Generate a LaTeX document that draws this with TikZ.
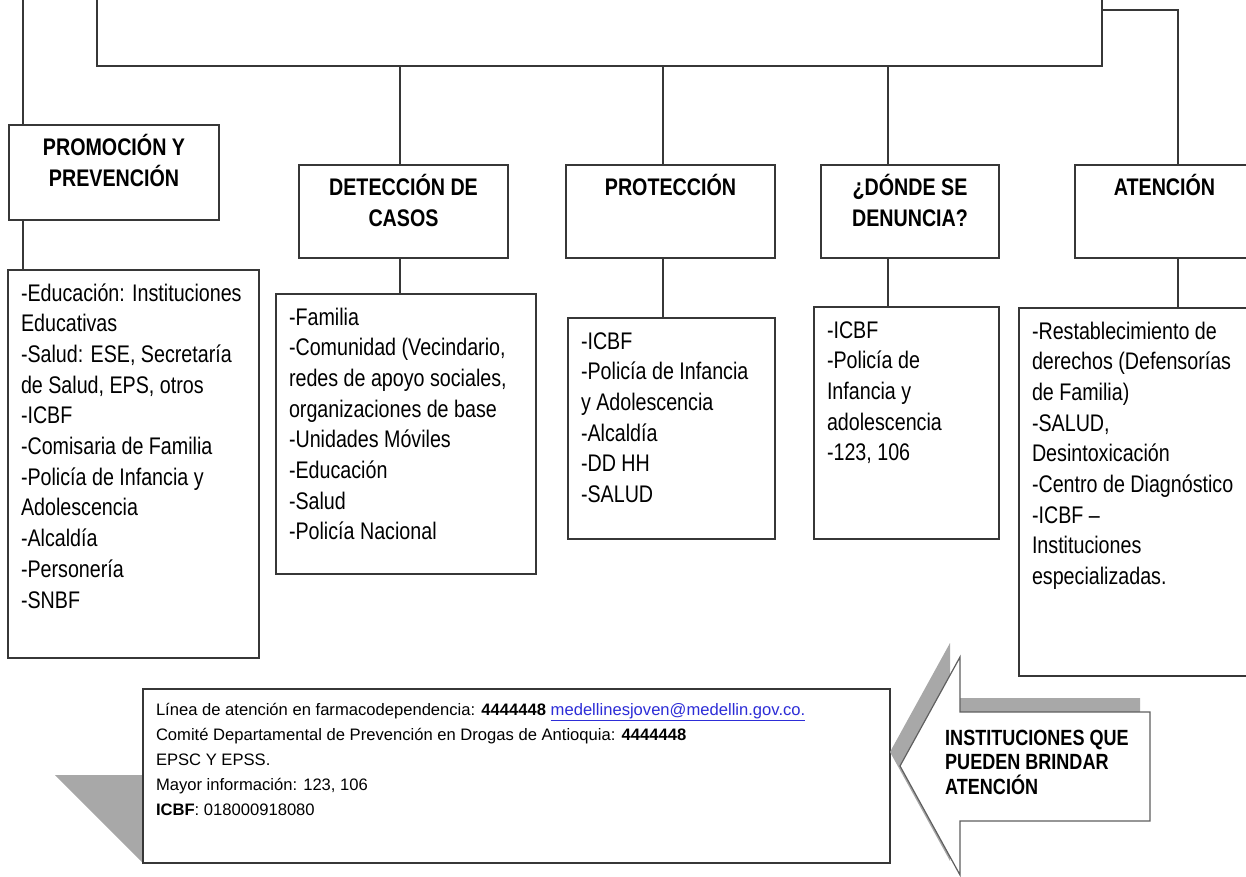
\documentclass[tikz,border=0pt]{standalone}
\usepackage{fontspec}
\setmainfont{Liberation Sans}[FakeStretch=0.82]
\newfontfamily\infofont{Liberation Sans}
\definecolor{linegray}{RGB}{55,55,55}
\definecolor{shadegray}{RGB}{168,168,168}
\definecolor{mailblue}{RGB}{45,45,215}

\begin{document}
\begin{tikzpicture}[x=1pt, y=-1pt,
	frame/.style={draw=linegray, line width=2pt, rectangle, fill=white, anchor=north west, inner xsep=13pt, inner ysep=0pt, text height=31pt},
	head/.style={frame, align=flush center, font=\bfseries\fontsize{24}{31}\selectfont},
	list/.style={frame, align=flush left, font=\fontsize{24}{30.7}\selectfont},
	link/.style={draw=linegray, line width=1.8pt}]

	\useasboundingbox (0,0) rectangle (1246,877);
	\clip (0,0) rectangle (1246,877);

	\node[frame, minimum width=1005pt, minimum height=200pt, anchor=south west] (title) at (96,67) {};

	\node[head, text width=184pt, text depth=64pt] (promo) at (8,124) {PROMOCIÓN Y\\PREVENCIÓN};
	\node[head, text width=183pt, text depth=62pt] (detec) at (298,164) {DETECCIÓN DE\\CASOS};
	\node[head, text width=183pt, text depth=62pt] (prot) at (565,164) {PROTECCIÓN};
	\node[head, text width=152pt, text depth=62pt] (donde) at (820,164) {¿DÓNDE SE\\DENUNCIA?};
	\node[head, text width=153pt, text depth=62pt] (aten) at (1074,164) {ATENCIÓN};

	\node[list, text width=225pt, text depth=357pt] (promoL) at (7,269) {-Educación: Instituciones\\Educativas\\-Salud: ESE, Secretaría\\de Salud, EPS, otros\\-ICBF\\-Comisaria de Familia\\-Policía de Infancia y\\Adolescencia\\-Alcaldía\\-Personería\\-SNBF};
	\node[list, text width=234pt, text depth=249pt] (detecL) at (275,293) {-Familia\\-Comunidad (Vecindario,\\redes de apoyo sociales,\\organizaciones de base\\-Unidades Móviles\\-Educación\\-Salud\\-Policía Nacional};
	\node[list, text width=181pt, text depth=190pt] (protL) at (567,317) {-ICBF\\-Policía de Infancia\\y Adolescencia\\-Alcaldía\\-DD HH\\-SALUD};
	\node[list, text width=159pt, text depth=201pt] (dondeL) at (813,306) {-ICBF\\-Policía de\\Infancia y\\adolescencia\\-123, 106};
	\node[list, text width=208pt, text depth=337pt] (atenL) at (1018,307) {-Restablecimiento de\\derechos (Defensorías\\de Familia)\\-SALUD,\\Desintoxicación\\-Centro de Diagnóstico\\-ICBF --\\Instituciones\\especializadas.};

	\coordinate (px) at (23,-5);
	\coordinate (ax) at (1178,10);

	\draw[link] (px) -- (px |- promo.north);
	\draw[link] (px |- promo.south) -- (px |- promoL.north);

	\foreach \c/\x in {detec/400,prot/663,donde/888}
	{
		\draw[link] (\x,0 |- title.south) -- (\x,0 |- \c.north);
		\draw[link] (\x,0 |- \c.south) -- (\x,0 |- \c L.north);
	}

	\draw[link] (title.east |- ax) -- (ax) -- (ax |- aten.north);
	\draw[link] (ax |- aten.south) -- (ax |- atenL.north);

	\fill[shadegray] (55,775) -- (142,775) -- (142,862) -- cycle;
	\node[frame, text width=721pt, text height=26pt, text depth=148pt, align=flush left, font=\infofont\fontsize{16.6}{25}\selectfont] (info) at (142,688) {Línea de atención en farmacodependencia: \textbf{4444448} {\color{mailblue}\underline{medellinesjoven@medellin.gov.co.}}\\Comité Departamental de Prevención en Drogas de Antioquia: \textbf{4444448}\\EPSC Y EPSS.\\Mayor información: 123, 106\\\textbf{ICBF}: 018000918080};

	\fill[shadegray, shift={(-10,-14)}] (900,766) -- (960,657) -- (960,712) -- (1150,712) -- (1150,821) -- (960,821) -- (960,875) -- cycle;
	\draw[draw=linegray!80, line width=1.2pt, fill=white] (900,766) -- (960,657) -- (960,712) -- (1150,712) -- (1150,821) -- (960,821) -- (960,875) -- cycle;
	\node[anchor=north west, inner sep=0pt, text width=200pt, text height=16pt, align=flush left, font=\bfseries\fontsize{22}{24.5}\selectfont] (arrowtxt) at (945,729) {INSTITUCIONES QUE\\PUEDEN BRINDAR\\ATENCIÓN};

\end{tikzpicture}
\end{document}
